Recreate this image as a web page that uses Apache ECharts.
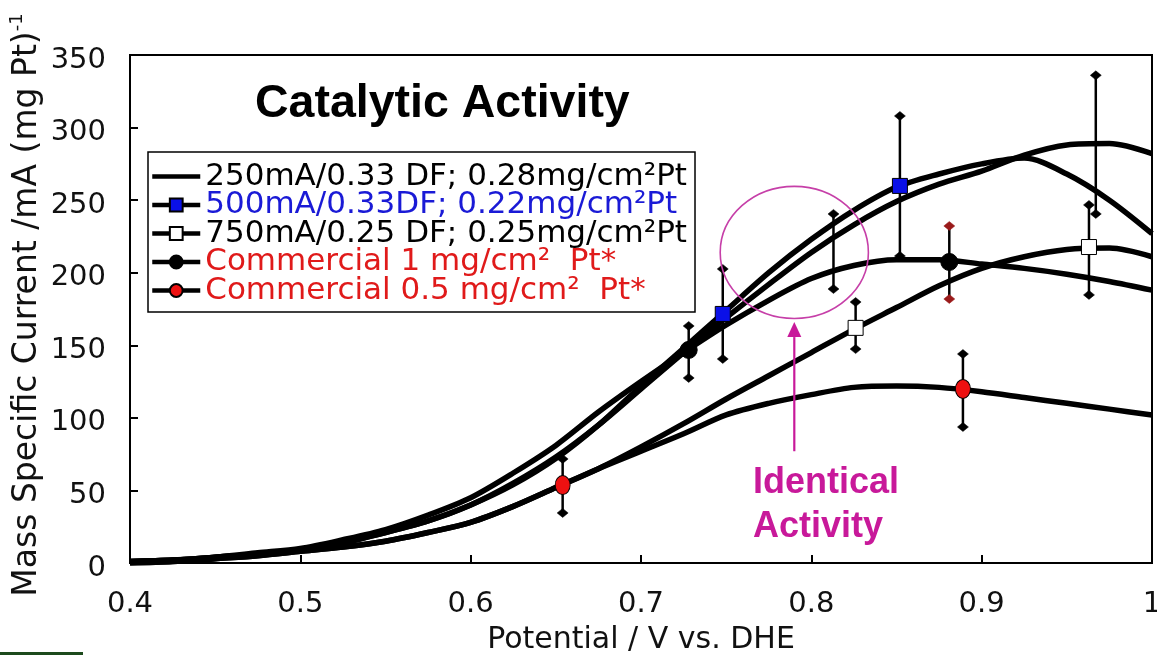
<!DOCTYPE html>
<html>
<head>
<meta charset="utf-8">
<script src="https://cdn.jsdelivr.net/npm/echarts@6/dist/echarts.min.js"></script>
<style>
  html, body { margin: 0; padding: 0; background: #fff; }
  #chart { width: 1157px; height: 655px; }
</style>
</head>
<body>
<div id="chart"></div>
<script>
// Potential grid (V vs. DHE) shared by the polarisation curves
const potential = [0.400, 0.425, 0.450, 0.475, 0.500, 0.525, 0.550, 0.575, 0.600, 0.625,
                   0.650, 0.675, 0.700, 0.725, 0.750, 0.775, 0.800, 0.825, 0.850, 0.875,
                   0.900, 0.925, 0.950, 0.975, 1.000];

// Mass specific current, mA (mg Pt)^-1
const cur250mA  = [1, 2, 4, 6, 9, 14, 21, 29, 40, 55, 73, 95, 120, 145, 169, 192, 214, 233, 249, 261, 270, 281, 288, 289, 282];
const cur500mA  = [1, 2, 4, 6, 9, 14, 21, 29, 40, 54, 72, 95, 122, 148, 174, 200, 223, 243, 259, 268, 275, 279, 268, 250, 227];
const cur750mA  = [0, 1, 3, 5, 8, 11, 15, 21, 28, 39, 52, 65, 80, 96, 113, 129, 145, 161, 176, 191, 203, 211, 216, 217, 211];
const curCom1   = [1, 2, 4, 7, 10, 16, 23, 33, 45, 62, 81, 104, 125, 145, 164, 181, 196, 205, 209, 209, 206, 203, 199, 194, 188];
const curCom05  = [0, 1, 3, 5, 8, 11, 15, 21, 28, 39, 52, 65, 77, 89, 102, 110, 116, 121, 122, 121, 118, 114, 110, 106, 102];

// Averaged points with error bars
const bars250X  = [0.813, 0.967];
const bars250Lo = [188.8, 240.5];
const bars250Hi = [240.5, 336];

const pts500X  = [0.748, 0.852];
const pts500Y  = [171.6, 259.8];
const pts500Lo = [140.6, 211.5];
const pts500Hi = [202.6, 308];

const pts750X  = [0.826, 0.963];
const pts750Y  = [162, 217.7];
const pts750Lo = [147.4, 184.7];
const pts750Hi = [179.8, 246.7];

const ptsCom1X  = [0.728, 0.881];
const ptsCom1Y  = [146.8, 207.4];
const ptsCom1Lo = [127.5, 181.9];
const ptsCom1Hi = [163.3, 232.2];

const ptsCom05X  = [0.654, 0.889];
const ptsCom05Y  = [53.7, 119.9];
const ptsCom05Lo = [34.5, 93.7];
const ptsCom05Hi = [71.7, 144];

const seriesNames = [
  '250mA/0.33 DF; 0.28mg/cm\u00B2Pt',
  '500mA/0.33DF; 0.22mg/cm\u00B2Pt',
  '750mA/0.25 DF; 0.25mg/cm\u00B2Pt',
  'Commercial 1 mg/cm\u00B2  Pt*',
  'Commercial 0.5 mg/cm\u00B2  Pt*'
];

const xTicks = { min: 0.4, max: 1.0, step: 0.1 };
const yTicks = { min: 0, max: 350, step: 50 };

// Annotation around the overlapping curves (data coordinates)
const ellipseCenter = [0.79, 214];
const ellipseHalf = [0.0435, 45.5];
const arrowFrom = [0.79, 77];
const arrowTo = [0.79, 166];

const FONT = 'DejaVu Sans';
const MAGENTA = '#C8199A';
const DARK_RED = '#9a1a1a';

function pairs(xs, ys) { return xs.map((x, i) => [x, ys[i]]); }

function curve(name, ys, symbol, color, size) {
  return {
    type: 'line', name: name, data: pairs(potential, ys),
    smooth: 0.3, showSymbol: false, symbol: symbol, symbolSize: size,
    lineStyle: { color: '#000', width: 5.5 },
    itemStyle: { color: color, borderColor: '#000', borderWidth: 1 },
    z: 2, silent: true
  };
}

// Vertical bar with small diamond caps; capColors gives one colour per point
function errorBars(xs, lo, hi, capColors) {
  return {
    type: 'custom', silent: true, z: 3,
    encode: { x: 0, y: [1, 2] },
    data: xs.map((x, i) => [x, lo[i], hi[i]]),
    renderItem: function (params, api) {
      const capColor = capColors[params.dataIndex];
      const x = api.value(0);
      const top = api.coord([x, api.value(2)]);
      const bot = api.coord([x, api.value(1)]);
      const cap = p => ({
        type: 'polygon',
        shape: { points: [[p[0] - 5.5, p[1]], [p[0], p[1] - 4.5], [p[0] + 5.5, p[1]], [p[0], p[1] + 4.5]] },
        style: { fill: capColor, stroke: capColor, lineWidth: 0.5 }
      });
      return {
        type: 'group',
        children: [
          { type: 'line', shape: { x1: top[0], y1: top[1], x2: bot[0], y2: bot[1] },
            style: { stroke: '#000', lineWidth: 2.5 } },
          cap(top), cap(bot)
        ]
      };
    }
  };
}

function markers(xs, ys, symbol, size, color) {
  return {
    type: 'scatter', silent: true, z: 4,
    data: pairs(xs, ys), symbol: symbol, symbolSize: size,
    itemStyle: { color: color, borderColor: '#000', borderWidth: 1, opacity: 1 }
  };
}

const chart = echarts.init(document.getElementById('chart'));

chart.setOption({
  animation: false,
  backgroundColor: '#fff',
  grid: {
    left: 130, right: 5, top: 55, bottom: 92,
    outerBoundsMode: 'none', containLabel: false,
    show: true, borderColor: '#000', borderWidth: 2, backgroundColor: 'transparent'
  },
  xAxis: {
    type: 'value', min: xTicks.min, max: xTicks.max, interval: xTicks.step,
    name: 'Potential / V vs. DHE', nameLocation: 'middle', nameGap: 62,
    nameTextStyle: { fontFamily: FONT, fontSize: 30, color: '#111' },
    axisLine: { show: true, onZero: false, lineStyle: { color: '#000', width: 2 } },
    axisTick: { show: true, inside: true, length: 8, lineStyle: { color: '#000', width: 2 } },
    axisLabel: {
      fontFamily: FONT, fontSize: 29, color: '#111', margin: 27,
      formatter: v => String(Math.round(v * 10) / 10)
    },
    splitLine: { show: false }
  },
  yAxis: {
    type: 'value', min: yTicks.min, max: yTicks.max, interval: yTicks.step,
    axisLine: { show: true, lineStyle: { color: '#000', width: 2 } },
    axisTick: { show: true, inside: true, length: 8, lineStyle: { color: '#000', width: 2 } },
    axisLabel: { fontFamily: FONT, fontSize: 29, color: '#111', margin: 24,
                 verticalAlign: 'top', lineHeight: 10 },
    splitLine: { show: false }
  },
  legend: {
    orient: 'vertical', left: 148, top: 152,
    padding: [9, 8, 6, 2], itemGap: -2.5, itemWidth: 48, itemHeight: 16,
    borderColor: '#000', borderWidth: 1.5, backgroundColor: '#fff',
    selectedMode: false,
    lineStyle: { color: '#000', width: 4.5 },
    textStyle: { fontFamily: FONT, fontSize: 31, color: '#000' },
    data: [
      { name: seriesNames[0], itemStyle: { opacity: 0 } },
      { name: seriesNames[1], textStyle: { color: '#1a1ad6' } },
      { name: seriesNames[2], textStyle: { color: '#000' } },
      { name: seriesNames[3], textStyle: { color: '#e01a1a' } },
      { name: seriesNames[4], textStyle: { color: '#e01a1a' } }
    ]
  },
  series: [
    curve(seriesNames[0], cur250mA, 'none', '#000', 12),
    curve(seriesNames[1], cur500mA, 'rect', '#0a10e8', 12),
    curve(seriesNames[2], cur750mA, 'rect', '#fff', 12),
    curve(seriesNames[3], curCom1, 'circle', '#000', 13),
    curve(seriesNames[4], curCom05, 'circle', '#ee1111', 13),
    errorBars(bars250X, bars250Lo, bars250Hi, ['#000', '#000']),
    errorBars(pts500X, pts500Lo, pts500Hi, ['#000', '#000']),
    errorBars(pts750X, pts750Lo, pts750Hi, ['#000', '#000']),
    errorBars(ptsCom1X, ptsCom1Lo, ptsCom1Hi, ['#000', DARK_RED]),
    errorBars(ptsCom05X, ptsCom05Lo, ptsCom05Hi, ['#000', '#000']),
    markers(pts500X, pts500Y, 'rect', 15, '#0a10e8'),
    markers(pts750X, pts750Y, 'rect', 15, '#fff'),
    markers(ptsCom1X, ptsCom1Y, 'circle', 17, '#000'),
    markers(ptsCom05X, ptsCom05Y, 'circle', [15, 19], '#ee1111')
  ]
});

// Overlays placed from the grid's own coordinate system
const toPx = p => chart.convertToPixel({ gridIndex: 0 }, p);
const ec = toPx(ellipseCenter);
const ee = toPx([ellipseCenter[0] + ellipseHalf[0], ellipseCenter[1] + ellipseHalf[1]]);
const a0 = toPx(arrowFrom);
const a1 = toPx(arrowTo);
const head = 15;

chart.setOption({
  graphic: [
    {
      type: 'text', x: 255, y: 104, z: 10,
      style: { text: 'Catalytic Activity', fontFamily: 'Liberation Sans', fontWeight: 'bold',
               fontSize: 46.5, fill: '#000', verticalAlign: 'middle' }
    },
    {
      type: 'text', x: 27, y: 305, rotation: Math.PI / 2, z: 10,
      style: {
        text: '{m|Mass Specific Current /mA (mg Pt)}{s|-1}',
        align: 'center', verticalAlign: 'middle',
        rich: {
          m: { fontFamily: FONT, fontSize: 33, fill: '#111', lineHeight: 38 },
          s: { fontFamily: FONT, fontSize: 18, fill: '#111', verticalAlign: 'top', lineHeight: 18 }
        }
      }
    },
    {
      type: 'ellipse', z: 10,
      shape: { cx: ec[0], cy: ec[1], rx: ee[0] - ec[0], ry: ec[1] - ee[1] },
      style: { fill: 'none', stroke: '#C63FA8', lineWidth: 1.6 }
    },
    {
      type: 'line', z: 10,
      shape: { x1: a0[0], y1: a0[1], x2: a1[0], y2: a1[1] + head },
      style: { stroke: MAGENTA, lineWidth: 2.2 }
    },
    {
      type: 'polygon', z: 10,
      shape: { points: [[a1[0], a1[1]], [a1[0] - 7, a1[1] + head], [a1[0] + 7, a1[1] + head]] },
      style: { fill: MAGENTA }
    },
    {
      type: 'text', x: 753, y: 483, z: 10,
      style: { text: 'Identical', fontFamily: 'Liberation Sans', fontWeight: 'bold',
               fontSize: 36, fill: MAGENTA, verticalAlign: 'middle' }
    },
    {
      type: 'text', x: 753, y: 527, z: 10,
      style: { text: 'Activity', fontFamily: 'Liberation Sans', fontWeight: 'bold',
               fontSize: 36, fill: MAGENTA, verticalAlign: 'middle' }
    },
    {
      type: 'rect', z: 10,
      shape: { x: 0, y: 652, width: 83, height: 3 },
      style: { fill: '#1d4a1d' }
    }
  ]
});
</script>
</body>
</html>
